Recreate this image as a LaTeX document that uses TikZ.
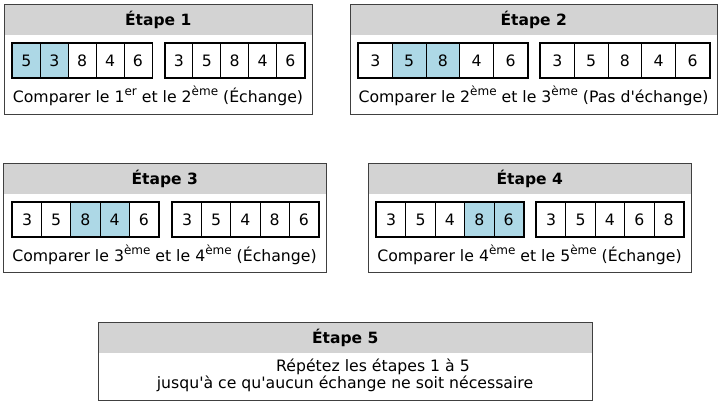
\documentclass[tikz,border=0pt]{standalone}
\usepackage{fontspec}
\setmainfont{DejaVu Sans}
\usetikzlibrary{positioning}
\definecolor{cellblue}{HTML}{ADD8E6}
\definecolor{headgray}{HTML}{D3D3D3}
\definecolor{boxgray}{HTML}{404040}
\newcommand{\expo}[1]{\raisebox{0.42em}{\fontsize{12}{12}\selectfont #1}}

\begin{document}
\begin{tikzpicture}[x=1pt, y=-1pt,
		font=\fontsize{15.7}{18}\selectfont,
		header/.style={fill=headgray, anchor=north west, inner sep=0pt, minimum height=31pt, font=\fontsize{15.5}{18}\selectfont\bfseries},
		etape/.style={draw=boxgray, line width=1pt, anchor=north west, inner sep=0pt},
		cell/.style={draw, line width=0.8pt, anchor=north west, inner sep=0pt, minimum height=34pt},
		hl/.style={cell, fill=cellblue},
		tableau/.style={draw, line width=1.6pt}
	]
	\useasboundingbox (0,0) rectangle (722,409);
	
	% Etape 1
	\node[header, minimum width=308pt] (h1) at (4,4) {Étape 1};
	\node[etape, minimum width=308pt, minimum height=110pt] (e1) at (4,4) {};
	\foreach \v/\s [count=\i] in {5/hl,3/hl,8/cell,4/cell,6/cell}
		\node[\s, minimum width=27.9pt] (a1\i) at ({12+(\i-1)*27.9},43) {\v};
	\foreach \v [count=\i] in {3,5,8,4,6}
		\node[cell, minimum width=27.9pt] (b1\i) at ({164.5+(\i-1)*27.9},43) {\v};
	\draw[tableau] (a11.north west) rectangle (a15.south east);
	\draw[tableau] (b11.north west) rectangle (b15.south east);
	\node (t1) at (158,96) {Comparer le 1\expo{er} et le 2\expo{ème} (Échange)};
	
	% Etape 2
	\node[header, minimum width=367pt] (h2) at (350,4) {Étape 2};
	\node[etape, minimum width=367pt, minimum height=110pt] (e2) at (350,4) {};
	\foreach \v/\s [count=\i] in {3/cell,5/hl,8/hl,4/cell,6/cell}
		\node[\s, minimum width=33.8pt] (a2\i) at ({358+(\i-1)*33.8},43) {\v};
	\foreach \v [count=\i] in {3,5,8,4,6}
		\node[cell, minimum width=33.8pt] (b2\i) at ({540+(\i-1)*33.8},43) {\v};
	\draw[tableau] (a21.north west) rectangle (a25.south east);
	\draw[tableau] (b21.north west) rectangle (b25.south east);
	\node (t2) at (533.5,96) {Comparer le 2\expo{ème} et le 3\expo{ème} (Pas d\textquotesingle échange)};
	
	% Etape 3
	\node[header, minimum width=323pt] (h3) at (3,163) {Étape 3};
	\node[etape, minimum width=323pt, minimum height=109pt] (e3) at (3,163) {};
	\foreach \v/\s [count=\i] in {3/cell,5/cell,8/hl,4/hl,6/cell}
		\node[\s, minimum width=29.2pt] (a3\i) at ({12+(\i-1)*29.2},202) {\v};
	\foreach \v [count=\i] in {3,5,4,8,6}
		\node[cell, minimum width=29.2pt] (b3\i) at ({172+(\i-1)*29.2},202) {\v};
	\draw[tableau] (a31.north west) rectangle (a35.south east);
	\draw[tableau] (b31.north west) rectangle (b35.south east);
	\node (t3) at (164.5,255) {Comparer le 3\expo{ème} et le 4\expo{ème} (Échange)};
	
	% Etape 4
	\node[header, minimum width=323pt] (h4) at (368,163) {Étape 4};
	\node[etape, minimum width=323pt, minimum height=109pt] (e4) at (368,163) {};
	\foreach \v/\s [count=\i] in {3/cell,5/cell,4/cell,8/hl,6/hl}
		\node[\s, minimum width=29.4pt] (a4\i) at ({376+(\i-1)*29.4},202) {\v};
	\foreach \v [count=\i] in {3,5,4,6,8}
		\node[cell, minimum width=29.4pt] (b4\i) at ({536+(\i-1)*29.4},202) {\v};
	\draw[tableau] (a41.north west) rectangle (a45.south east);
	\draw[tableau] (b41.north west) rectangle (b45.south east);
	\node (t4) at (529.5,255) {Comparer le 4\expo{ème} et le 5\expo{ème} (Échange)};
	
	% Etape 5
	\node[header, minimum width=494pt] (h5) at (98,322) {Étape 5};
	\node[etape, minimum width=494pt, minimum height=78pt] (e5) at (98,322) {};
	\node (t5) at (373,367) {Répétez les étapes 1 à 5};
	\node (t6) at (345,384) {jusqu\textquotesingle à ce qu\textquotesingle aucun échange ne soit nécessaire};
\end{tikzpicture}
\end{document}
